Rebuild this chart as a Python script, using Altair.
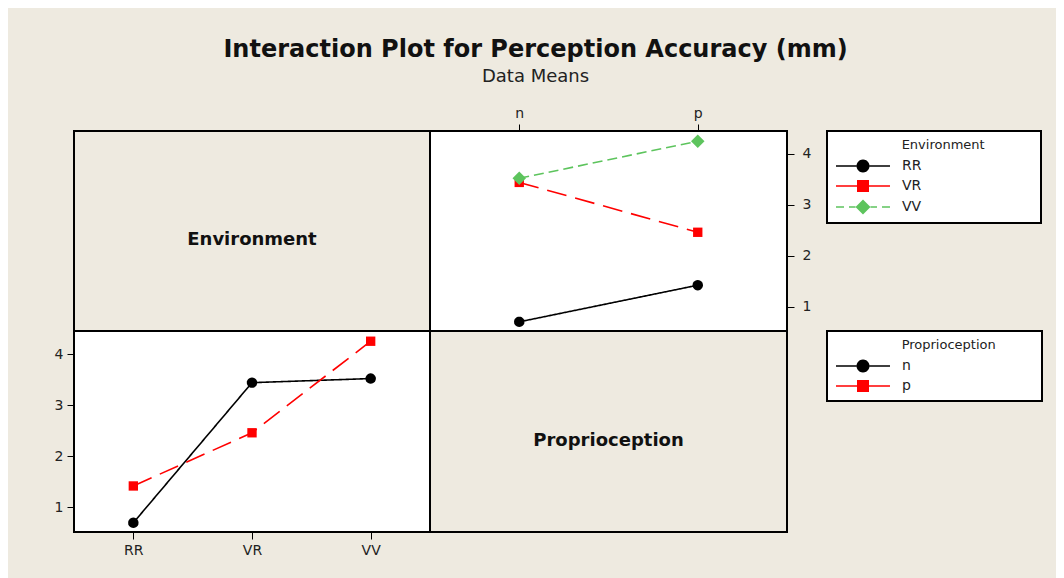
import math
import altair as alt
import pandas as pd

# ---------------- data ----------------
environments = ["RR", "VR", "VV"]
proprioception = ["n", "p"]
mean_n = [0.70, 3.44, 3.52]   # Proprioception = n, per environment
mean_p = [1.42, 2.46, 4.25]   # Proprioception = p, per environment
y_ticks = [1, 2, 3, 4]
y_domain = [0.52, 4.45]

rows = []
for i, e in enumerate(environments):
    rows.append({"Environment": e, "Proprioception": "n", "Value": mean_n[i]})
    rows.append({"Environment": e, "Proprioception": "p", "Value": mean_p[i]})
df = pd.DataFrame(rows)

# ---------------- styles ----------------
BG = "#EEEAE0"
FONT = "DejaVu Sans"
W1, W2 = 356, 357
H1, H2 = 200, 201

env_colors = ["#000000", "#FF0000", "#5DC45D"]
env_dash = [[1, 0], [20, 9], [10, 5]]
prop_colors = ["#000000", "#FF0000"]
prop_dash = [[1, 0], [20, 9]]


def polygon_circle(r, fmt):
    pts = [(r * math.cos(2 * math.pi * k / 24), r * math.sin(2 * math.pi * k / 24)) for k in range(24)]
    return "M" + "L".join(f"{fmt(x)},{fmt(y)}" for x, y in pts) + "Z"


def marker(kind, fmt, scale=1.0):
    if kind == "circle":
        r = 6.5 * scale
        return polygon_circle(r, fmt), r
    if kind == "square":
        a = 6.0 * scale
        return f"M{fmt(-a)},{fmt(-a)}H{fmt(a)}V{fmt(a)}H{fmt(-a)}Z", a
    a = 7.5 * scale
    return f"M0,{fmt(-a)}L{fmt(a)},0L0,{fmt(a)}L{fmt(-a)},0Z", a


# plot markers: custom symbol paths at a fixed size (1 unit = 5 px)
PT = 100
UP = math.sqrt(PT) / 2.0


def fp(v):
    return f"{v / UP:.3f}"


env_shapes = [marker("circle", fp, 0.8)[0], marker("square", fp, 0.78)[0], marker("diamond", fp, 0.9)[0]]
prop_shapes = [marker("circle", fp, 0.8)[0], marker("square", fp, 0.78)[0]]

# legend glyphs: line + marker drawn as one filled symbol path (1 unit = 7 px)
SYM = 196
U = math.sqrt(SYM) / 2.0


def f(v):
    return f"{v / U:.3f}"


def rect(x1, x2, h=0.75):
    return f"M{f(x1)},{f(-h)}H{f(x2)}V{f(h)}H{f(x1)}Z"


def glyph(kind, dashed):
    m, r = marker(kind, f)
    if dashed:
        segs = [(-27, -19), (-14, -r), (r, 14), (19, 27)]
    else:
        segs = [(-27, -r), (r, 27)]
    return "".join(rect(a, b) for a, b in segs) + m


env_glyphs = [glyph("circle", False), glyph("square", False), glyph("diamond", True)]
prop_glyphs = [glyph("circle", False), glyph("square", False)]

BLANK = "\u2800"


def legend(title, x, y):
    return alt.Legend(
        title=title, orient="none", legendX=x, legendY=y,
        padding=8, strokeColor="#000000", fillColor="#FFFFFF",
        titleFont=FONT, titleFontSize=13, titleFontWeight="normal", titleColor="#222222",
        titlePadding=7, titleLimit=400, labelFont=FONT, labelFontSize=14, labelColor="#222222",
        symbolSize=SYM, symbolStrokeWidth=0, symbolOpacity=1,
        symbolOffset=21, labelOffset=32, rowPadding=6,
    )


def label_panel(text, w, h):
    return alt.Chart(pd.DataFrame({"label": [text]})).mark_text(
        font=FONT, fontSize=18, fontWeight="bold", color="#111111", dy=9
    ).encode(text="label:N").properties(
        width=w, height=h, view=alt.ViewBackground(fill=BG, stroke="#000000", strokeWidth=2)
    )


def plot_panel(xfield, xorient, yorient, gfield, gdomain, colors, dashes, shapes, glyphs, leg, w, h, ypad):
    base = alt.Chart(df)
    x = alt.X(f"{xfield}:N", scale=alt.Scale(padding=0.5),
              axis=alt.Axis(orient=xorient, title=None, labelAngle=0))
    y = alt.Y("Value:Q", scale=alt.Scale(domain=y_domain, nice=False, zero=False),
              axis=alt.Axis(orient=yorient, title=None, values=y_ticks, labelPadding=ypad))
    lines = base.mark_line(strokeWidth=1.6).encode(
        x=x, y=y,
        color=alt.Color(f"{gfield}:N", scale=alt.Scale(domain=gdomain, range=colors), legend=None),
        strokeDash=alt.StrokeDash(f"{gfield}:N", scale=alt.Scale(domain=gdomain, range=dashes), legend=None),
    )
    points = base.mark_point(filled=True, opacity=1, size=PT).encode(
        x=x, y=y,
        color=alt.Color(f"{gfield}:N", scale=alt.Scale(domain=gdomain, range=colors), legend=None),
        shape=alt.Shape(f"{gfield}:N", scale=alt.Scale(domain=gdomain, range=shapes), legend=None),
    )
    legend_layer = base.mark_point(filled=True, opacity=1).transform_filter("false").encode(
        color=alt.Color(f"{gfield}:N", scale=alt.Scale(domain=gdomain, range=colors), legend=leg),
        shape=alt.Shape(f"{gfield}:N", scale=alt.Scale(domain=gdomain, range=glyphs), legend=leg),
    )
    return alt.layer(legend_layer, lines, points).resolve_scale(
        color="independent", shape="independent", strokeDash="independent"
    ).resolve_legend(
        color="independent", shape="independent", strokeDash="independent"
    ).properties(
        width=w, height=h, view=alt.ViewBackground(fill="#FFFFFF", stroke="#000000", strokeWidth=2)
    )


env_title = BLANK * 7 + "Environment" + BLANK * 5
prop_title = BLANK * 7 + "Proprioception" + BLANK * 4

top_left = label_panel("Environment", W1, H1)
top_right = plot_panel("Proprioception", "top", "right", "Environment", environments,
                       env_colors, env_dash, env_shapes, env_glyphs,
                       legend(env_title, 397, 0), W2, H1, 8)
bottom_left = plot_panel("Environment", "bottom", "left", "Proprioception", proprioception,
                         prop_colors, prop_dash, prop_shapes, prop_glyphs,
                         legend(prop_title, 753, 0), W1, H2, 4)
bottom_right = label_panel("Proprioception", W2, H2)

chart = alt.concat(
    top_left, top_right, bottom_left, bottom_right, columns=2, spacing=0, bounds="flush"
).resolve_scale(
    color="independent", shape="independent", strokeDash="independent"
).resolve_legend(
    color="independent", shape="independent", strokeDash="independent"
).properties(
    title=alt.TitleParams(
        text="Interaction Plot for Perception Accuracy (mm)", subtitle="Data Means",
        anchor="middle", frame="bounds", dx=-13, offset=19,
        font=FONT, fontSize=24, fontWeight="bold", color="#111111",
        subtitleFont=FONT, subtitleFontSize=18, subtitleColor="#222222", subtitlePadding=6,
    ),
    padding={"left": 45, "top": 30, "right": 12, "bottom": 30},
    background=BG,
).configure_axis(
    labelFont=FONT, labelFontSize=14, labelColor="#222222", tickColor="#000000",
    tickSize=7, tickWidth=1, domain=False, grid=False, labelPadding=4,
).configure_legend(strokeWidth=2)

chart.save("out.html", embed_options={"renderer": "svg", "actions": False})
